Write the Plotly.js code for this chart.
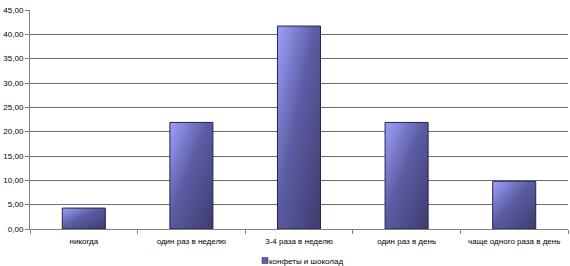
<!DOCTYPE html>
<html>
<head>
<meta charset="utf-8">
<script src="https://cdn.plot.ly/plotly-3.0.1.min.js"></script>
<style>html,body{margin:0;padding:0;background:#fff;}#chart{width:570px;height:266px;}</style>
</head>
<body>
<div id="chart"></div>
<script>
const categories = ["никогда", "один раз в неделю", "3-4 раза в неделю", "один раз в день", "чаще одного раза в день"];
const values = [4.3, 21.9, 41.7, 21.9, 9.8];
const seriesName = "конфеты и шоколад";
const yTicks = [0, 5, 10, 15, 20, 25, 30, 35, 40, 45];

const trace = {
  type: "bar",
  x: categories,
  y: values,
  name: seriesName,
  showlegend: true,
  marker: { color: "#6060b0", line: { color: "#24244a", width: 1 } },
  hoverinfo: "none"
};

const layout = {
  width: 570, height: 266,
  margin: { l: 30, r: 2, t: 10, b: 37, autoexpand: false },
  paper_bgcolor: "#ffffff", plot_bgcolor: "#ffffff",
  font: { family: "Liberation Sans, Arial, sans-serif", size: 8, color: "#000" },
  separators: ",.",
  bargap: 0.6,
  showlegend: true,
  legend: { orientation: "h", x: 0.4814, xanchor: "center", y: -0.078, yanchor: "top",
            bgcolor: "rgba(0,0,0,0)",
            font: { size: 8 }, itemwidth: 30, tracegroupgap: 0 },
  xaxis: {
    type: "category",
    showline: true, linecolor: "#808080", linewidth: 1,
    ticks: "outside", tickson: "boundaries", ticklen: 4, tickcolor: "#808080",
    ticklabelstandoff: 4,
    showgrid: false, zeroline: false,
    tickfont: { size: 8 }
  },
  yaxis: {
    range: [0, 45],
    tickvals: yTicks,
    tickformat: ".2f",
    showline: true, linecolor: "#808080", linewidth: 1,
    ticks: "outside", ticklen: 4, tickcolor: "#808080",
    showgrid: true, gridcolor: "#6e6e6e", gridwidth: 1,
    zeroline: false,
    tickfont: { size: 8 }
  }
};

Plotly.newPlot("chart", [trace], layout, { staticPlot: true, displayModeBar: false }).then(function (gd) {
  const svg = gd.querySelector("svg.main-svg");
  const ns = "http://www.w3.org/2000/svg";
  let defs = svg.querySelector("defs");
  if (!defs) { defs = document.createElementNS(ns, "defs"); svg.insertBefore(defs, svg.firstChild); }
  const grad = document.createElementNS(ns, "linearGradient");
  grad.setAttribute("id", "barGrad");
  grad.setAttribute("x1", "0"); grad.setAttribute("y1", "0");
  grad.setAttribute("x2", "1"); grad.setAttribute("y2", "1");
  [["0", "#a0a0ff"], ["0.45", "#5c5ca4"], ["1", "#3c3c6e"]].forEach(function (s) {
    const st = document.createElementNS(ns, "stop");
    st.setAttribute("offset", s[0]); st.setAttribute("stop-color", s[1]);
    grad.appendChild(st);
  });
  defs.appendChild(grad);
  gd.querySelectorAll(".barlayer .point path").forEach(function (p) {
    p.style.fill = "url(#barGrad)";
  });
  gd.querySelectorAll(".legend .legendpoints path").forEach(function (p) {
    p.setAttribute("transform", "translate(36,0) scale(0.5)");
  });
});
</script>
</body>
</html>
